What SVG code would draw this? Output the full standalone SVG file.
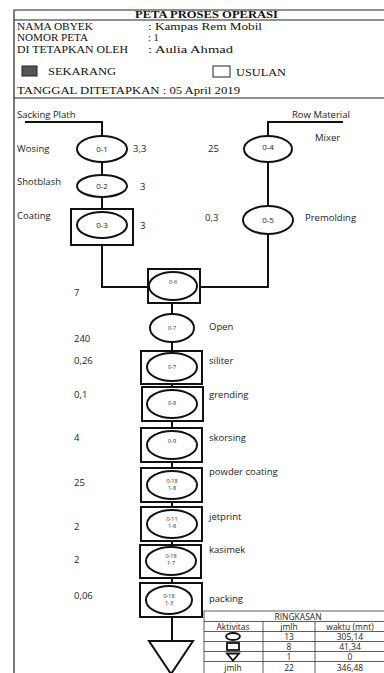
<svg xmlns="http://www.w3.org/2000/svg" width="384" height="673" viewBox="0 0 384 673">
<style>
.hdr{font-family:"Liberation Serif","Times New Roman",serif;font-size:10.5px;fill:#111}
.hb{font-weight:bold}
.lb{font-family:"Open Sans","Liberation Sans",sans-serif;font-size:9.5px;fill:#222}
.sm{font-family:"Open Sans","Liberation Sans",sans-serif;font-size:8px;fill:#222;text-anchor:middle}
.xs{font-family:"Open Sans","Liberation Sans",sans-serif;font-size:5.5px;fill:#222;text-anchor:middle}
.tb{font-family:"Open Sans","Liberation Sans",sans-serif;font-size:8.5px;fill:#222;text-anchor:middle}
.ln{stroke:#111;stroke-width:2;fill:none}
.fr{stroke:#222;stroke-width:1.2;fill:none}
.op{stroke:#111;stroke-width:2;fill:#fff}
.bx{stroke:#111;stroke-width:2;fill:#fff}
.tl{stroke:#333;stroke-width:0.8;fill:none}
</style>
<rect width="384" height="673" fill="#fff"/>
<g id="frame">
<line class="fr" x1="14" y1="10" x2="14" y2="673"/>
<line class="fr" x1="14" y1="10" x2="384" y2="10"/>
<line class="fr" x1="14" y1="20" x2="384" y2="20"/>
<line class="fr" x1="14" y1="98" x2="384" y2="98"/>
</g>
<g id="header">
<text class="hdr hb" x="135" y="18" textLength="143" lengthAdjust="spacingAndGlyphs">PETA PROSES OPERASI</text>
<text class="hdr" x="17" y="30" textLength="76" lengthAdjust="spacingAndGlyphs">NAMA OBYEK</text>
<text class="hdr" x="17" y="41" textLength="71" lengthAdjust="spacingAndGlyphs">NOMOR PETA</text>
<text class="hdr" x="17" y="53" textLength="111" lengthAdjust="spacingAndGlyphs">DI TETAPKAN OLEH</text>
<text class="hdr" x="148" y="30" textLength="114" lengthAdjust="spacingAndGlyphs">: Kampas Rem Mobil</text>
<text class="hdr" x="148" y="41">: 1</text>
<text class="hdr" x="148" y="53" textLength="85" lengthAdjust="spacingAndGlyphs">: Aulia Ahmad</text>
<rect x="22" y="66" width="15" height="10" fill="#555" stroke="#222" stroke-width="1"/>
<text class="hdr" x="48" y="75" textLength="68" lengthAdjust="spacingAndGlyphs">SEKARANG</text>
<rect x="213" y="66" width="17" height="11" fill="#fff" stroke="#222" stroke-width="1"/>
<text class="hdr" x="236" y="76" textLength="50" lengthAdjust="spacingAndGlyphs">USULAN</text>
<text class="hdr" x="17" y="94" textLength="223" lengthAdjust="spacingAndGlyphs">TANGGAL DITETAPKAN : 05 April 2019</text>
</g>
<g id="connectors">
<polyline class="ln" points="25,122 102,122 102,287 148,287"/>
<polyline class="ln" points="343,122 268,122 268,287 200,287"/>
<line class="ln" x1="172" y1="303" x2="172" y2="641"/>
</g>
<g id="o1"><ellipse class="op" cx="102" cy="149" rx="25" ry="13"/><text class="sm" x="102" y="152">0-1</text></g>
<g id="o2"><ellipse class="op" cx="102" cy="186" rx="25" ry="11"/><text class="sm" x="102" y="189">0-2</text></g>
<g id="o3"><rect class="bx" x="71" y="209" width="62" height="36"/><ellipse class="op" cx="102" cy="225" rx="25" ry="13"/><text class="sm" x="102" y="228">0-3</text></g>
<g id="o4"><ellipse class="op" cx="268" cy="149" rx="24" ry="13"/><text class="sm" x="268" y="150">0-4</text></g>
<g id="o5"><ellipse class="op" cx="268" cy="220" rx="25" ry="14"/><text class="sm" x="268" y="223">0-5</text></g>
<g id="o6"><rect class="bx" x="148" y="269" width="52" height="34"/><ellipse class="op" cx="173" cy="286" rx="24" ry="14"/><text class="xs" x="173" y="284">0-6</text></g>
<g id="o7a"><ellipse class="op" cx="172" cy="328" rx="22" ry="14"/><text class="xs" x="172" y="330">0-7</text></g>
<g id="o7b"><rect class="bx" x="141" y="351" width="61" height="33"/><ellipse class="op" cx="172" cy="367" rx="25" ry="14"/><text class="xs" x="172" y="369">0-7</text></g>
<g id="o8"><rect class="bx" x="142" y="387" width="61" height="34"/><ellipse class="op" cx="172" cy="404" rx="25" ry="14"/><text class="xs" x="172" y="405">0-8</text></g>
<g id="o9"><rect class="bx" x="141" y="428" width="61" height="34"/><ellipse class="op" cx="172" cy="445" rx="25" ry="14"/><text class="xs" x="172" y="443">0-9</text></g>
<g id="o10"><rect class="bx" x="141" y="468" width="61" height="34"/><ellipse class="op" cx="172" cy="485" rx="25" ry="14"/><text class="xs" x="172" y="483">0-18</text><text class="xs" x="172" y="490">1-8</text></g>
<g id="o11"><rect class="bx" x="141" y="507" width="61" height="34"/><ellipse class="op" cx="172" cy="524" rx="25" ry="14"/><text class="xs" x="172" y="521">0-11</text><text class="xs" x="172" y="528">1-8</text></g>
<g id="o12"><rect class="bx" x="140" y="545" width="61" height="33"/><ellipse class="op" cx="171" cy="561" rx="25" ry="14"/><text class="xs" x="171" y="558">0-18</text><text class="xs" x="171" y="565">1-7</text></g>
<g id="o13"><rect class="bx" x="140" y="583" width="62" height="34"/><ellipse class="op" cx="169" cy="600" rx="23" ry="14"/><text class="xs" x="169" y="598">0-18</text><text class="xs" x="169" y="605">1-3</text></g>
<g id="storage"><polygon class="bx" points="149,641 193,641 171,674"/></g>
<g id="labels">
<text class="lb" x="17" y="118">Sacking Plath</text>
<text class="lb" x="292" y="118">Row Material</text>
<text class="lb" x="17" y="152">Wosing</text>
<text class="lb" x="133" y="152">3,3</text>
<text class="lb" x="17" y="185">Shotblash</text>
<text class="lb" x="140" y="190">3</text>
<text class="lb" x="17" y="219">Coating</text>
<text class="lb" x="140" y="229">3</text>
<text class="lb" x="315" y="141">Mixer</text>
<text class="lb" x="208" y="152">25</text>
<text class="lb" x="205" y="221">0,3</text>
<text class="lb" x="305" y="221">Premolding</text>
<text class="lb" x="74" y="296">7</text>
<text class="lb" x="209" y="330">Open</text>
<text class="lb" x="74" y="342">240</text>
<text class="lb" x="209" y="364">siliter</text>
<text class="lb" x="74" y="364">0,26</text>
<text class="lb" x="209" y="398">grending</text>
<text class="lb" x="74" y="398">0,1</text>
<text class="lb" x="209" y="441">skorsing</text>
<text class="lb" x="74" y="441">4</text>
<text class="lb" x="209" y="475">powder coating</text>
<text class="lb" x="74" y="486">25</text>
<text class="lb" x="209" y="520">jetprint</text>
<text class="lb" x="74" y="530">2</text>
<text class="lb" x="209" y="553">kasimek</text>
<text class="lb" x="74" y="563">2</text>
<text class="lb" x="209" y="602">packing</text>
<text class="lb" x="74" y="599">0,06</text>
</g>
<g id="summary">
<rect class="tl" x="204" y="611" width="186" height="63" fill="#fff"/>
<line class="tl" x1="204" y1="621.5" x2="390" y2="621.5"/>
<line class="tl" x1="204" y1="631.5" x2="390" y2="631.5"/>
<line class="tl" x1="204" y1="641.5" x2="390" y2="641.5"/>
<line class="tl" x1="204" y1="651.5" x2="390" y2="651.5"/>
<line class="tl" x1="204" y1="661.5" x2="390" y2="661.5"/>
<line class="tl" x1="263" y1="621.5" x2="263" y2="674"/>
<line class="tl" x1="315" y1="621.5" x2="315" y2="674"/>
<text class="tb" x="298" y="619.5">RINGKASAN</text>
<text class="tb" x="233" y="629.5">Aktivitas</text>
<text class="tb" x="289" y="629.5">jmlh</text>
<text class="tb" x="350" y="629.5">waktu (mnt)</text>
<ellipse cx="233" cy="636.5" rx="7" ry="3.5" fill="none" stroke="#111" stroke-width="1.8"/>
<text class="tb" x="289" y="639.5">13</text>
<text class="tb" x="350" y="639.5">305,14</text>
<rect x="227" y="643" width="12" height="7" fill="none" stroke="#111" stroke-width="1.8"/>
<text class="tb" x="289" y="649.5">8</text>
<text class="tb" x="350" y="649.5">41,34</text>
<polygon points="227,653.5 239,653.5 233,660.5" fill="none" stroke="#111" stroke-width="1.8"/>
<text class="tb" x="289" y="659.5">1</text>
<text class="tb" x="350" y="659.5">0</text>
<text class="tb" x="233" y="670.5">jmlh</text>
<text class="tb" x="289" y="670.5">22</text>
<text class="tb" x="350" y="670.5">346,48</text>
</g>
</svg>
